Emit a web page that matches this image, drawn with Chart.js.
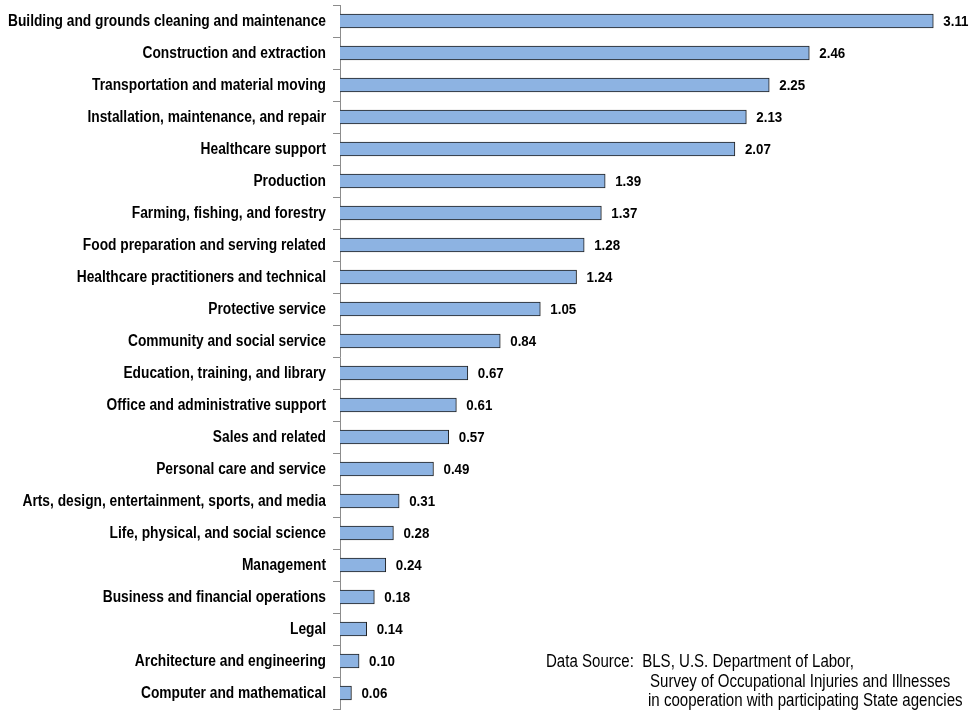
<!DOCTYPE html>
<html>
<head>
<meta charset="utf-8">
<script src="https://cdn.jsdelivr.net/npm/chart.js@4/dist/chart.umd.min.js"></script>
<style>
  html, body { margin: 0; padding: 0; background: #fff; }
  #wrap { width: 970px; height: 712px; position: relative; }
</style>
</head>
<body>
<div id="wrap"><canvas id="injuryChart"></canvas></div>
<script>
const categories = [
  "Building and grounds cleaning and maintenance",
  "Construction and extraction",
  "Transportation and material moving",
  "Installation, maintenance, and repair",
  "Healthcare support",
  "Production",
  "Farming, fishing, and forestry",
  "Food preparation and serving related",
  "Healthcare practitioners and technical",
  "Protective service",
  "Community and social service",
  "Education, training, and library",
  "Office and administrative support",
  "Sales and related",
  "Personal care and service",
  "Arts, design, entertainment, sports, and media",
  "Life, physical, and social science",
  "Management",
  "Business and financial operations",
  "Legal",
  "Architecture and engineering",
  "Computer and mathematical"
];
const values = [3.11, 2.46, 2.25, 2.13, 2.07, 1.39, 1.37, 1.28, 1.24, 1.05, 0.84, 0.67, 0.61, 0.57, 0.49, 0.31, 0.28, 0.24, 0.18, 0.14, 0.10, 0.06];
const sourceLines = [
  "Data Source:  BLS, U.S. Department of Labor,",
  "Survey of Occupational Injuries and Illnesses",
  "in cooperation with participating State agencies"
];

const FONT = "'Liberation Sans', Arial, sans-serif";
const SQUEEZE = 0.86; // the original text is narrow (condensed look)

// draws text squeezed horizontally, anchored at x
function squishText(ctx, text, x, y, align) {
  ctx.save();
  ctx.translate(x, y);
  ctx.scale(SQUEEZE, 1);
  ctx.textAlign = align;
  ctx.fillText(text, 0, 0);
  ctx.restore();
}

const labelPlugin = {
  id: "labels",
  afterDraw(chart) {
    const ctx = chart.ctx;
    const yScale = chart.scales.y;
    const meta = chart.getDatasetMeta(0);
    ctx.save();
    ctx.fillStyle = "#000";
    ctx.textBaseline = "middle";

    // category labels
    ctx.font = "bold 16px " + FONT;
    categories.forEach((c, i) => {
      squishText(ctx, c, 326, yScale.getPixelForTick(i) + 1, "right");
    });

    // value labels
    ctx.font = "bold 15.5px " + FONT;
    meta.data.forEach((bar, i) => {
      squishText(ctx, values[i].toFixed(2), bar.x + 10, bar.y + 1, "left");
    });

    // source note
    ctx.textBaseline = "alphabetic";
    ctx.font = "17.5px " + FONT;
    squishText(ctx, sourceLines[0], 546, 667, "left");
    squishText(ctx, sourceLines[1], 650, 686.5, "left");
    squishText(ctx, sourceLines[2], 648, 706, "left");
    ctx.restore();
  }
};

new Chart(document.getElementById("injuryChart"), {
  type: "bar",
  data: {
    labels: categories,
    datasets: [{
      data: values,
      backgroundColor: "#8db3e2",
      borderColor: "#1f1f1f",
      borderWidth: 1,
      barThickness: 14
    }]
  },
  options: {
    indexAxis: "y",
    responsive: true,
    maintainAspectRatio: false,
    animation: false,
    layout: { padding: { top: 5, bottom: 3, right: 10, left: 0 } },
    plugins: { legend: { display: false }, tooltip: { enabled: false } },
    scales: {
      x: {
        display: false,
        min: 0,
        max: 3.25
      },
      y: {
        afterFit(scale) { scale.width = 340; },
        border: { display: true, color: "#8c8c8c", width: 1 },
        grid: {
          offset: true,
          drawOnChartArea: false,
          drawTicks: true,
          tickLength: 7,
          color: "#8c8c8c"
        },
        ticks: { display: false }
      }
    }
  },
  plugins: [labelPlugin]
});
</script>
</body>
</html>
